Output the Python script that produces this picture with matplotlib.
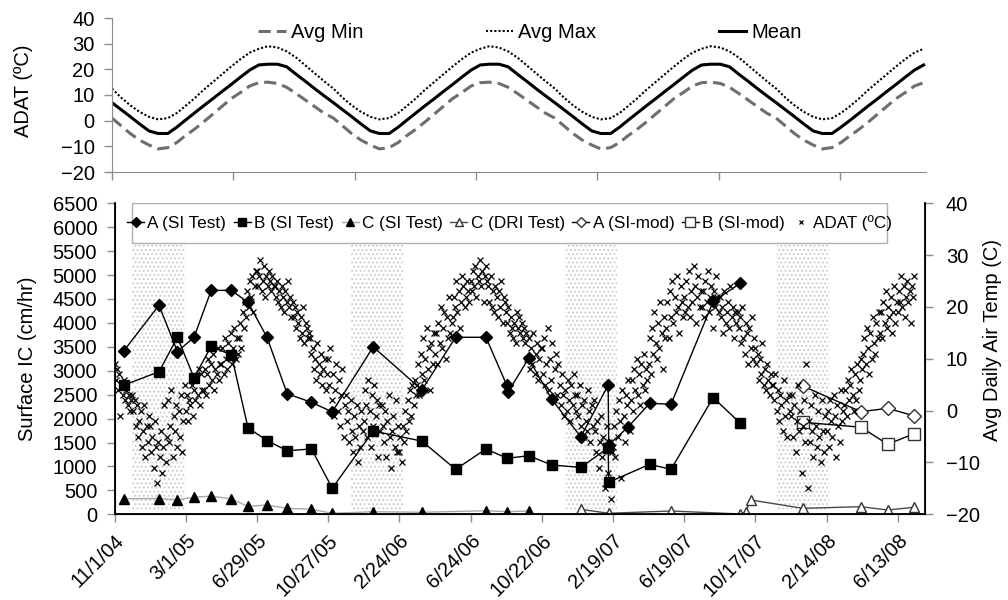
import matplotlib
matplotlib.use('Agg')
import matplotlib.pyplot as plt
import matplotlib.transforms as mtrans
from matplotlib.patches import Rectangle
import pandas as pd

plt.rcParams['font.family'] = ['Liberation Sans', 'DejaVu Sans']
plt.rcParams['hatch.color'] = '#c8c8c8'
plt.rcParams['hatch.linewidth'] = 0.8

start = pd.Timestamp('2004-11-01')

# ---- top panel: seasonal cycle of average daily air temperature (repeats every year)
clim_md = ['01-01', '01-16', '02-01', '02-16', '03-01', '03-16', '04-01', '04-16',
           '05-01', '05-16', '06-01', '06-16', '07-01', '07-16', '08-01', '08-16',
           '09-01', '09-16', '10-01', '10-16', '11-01', '11-16', '12-01', '12-16']
clim_mean = [-4, -5, -5, -2.5, 0, 2.8, 5.8, 8.5, 11.3, 14, 17, 19.7,
             21.7, 22, 22, 21, 18, 15.3, 12.5, 9.8, 7, 4.3, 1.6, -1.2]
clim_max = [1.5, 0.5, 1, 3, 5.5, 8.5, 12, 15, 18, 21, 24, 26.5,
            28, 29, 28.5, 27, 24.5, 21.5, 18.5, 15.5, 12.5, 9, 6, 3.5]
clim_min = [-9.5, -11, -10.5, -8.5, -6, -3.5, -0.5, 2.5, 5.5, 8.5, 11, 13.5,
            14.8, 15, 14.5, 13, 10.5, 8, 5.5, 3, 1, -2, -5, -7.5]
top_end = pd.Timestamp('2008-07-01')

# ---- bottom panel: infiltration tests (cm/hr)
a_si_dates = ['2004-11-17', '2005-01-15', '2005-02-15', '2005-03-15', '2005-04-13', '2005-05-17',
              '2005-06-14', '2005-07-16', '2005-08-19', '2005-09-29', '2005-11-03', '2006-01-11',
              '2006-04-03', '2006-05-30', '2006-07-20', '2006-08-24', '2006-08-26', '2006-09-30',
              '2006-11-08', '2006-12-27', '2007-02-11', '2007-02-12', '2007-03-17', '2007-04-22',
              '2007-05-28', '2007-08-07', '2007-09-22']
a_si = [3420, 4370, 3400, 3700, 4680, 4680, 4430, 3700, 2520, 2340, 2140, 3500,
        2600, 3700, 3700, 2700, 2550, 3260, 2400, 1620, 2700, 1450, 1830, 2320,
        2300, 4450, 4830]

b_si_dates = ['2004-11-17', '2005-01-15', '2005-02-15', '2005-03-15', '2005-04-13', '2005-05-17',
              '2005-06-14', '2005-07-16', '2005-08-19', '2005-09-29', '2005-11-03', '2006-01-11',
              '2006-04-03', '2006-05-30', '2006-07-20', '2006-08-25', '2006-09-30', '2006-11-08',
              '2006-12-27', '2007-02-11', '2007-02-12', '2007-04-22', '2007-05-28', '2007-08-07',
              '2007-09-22']
b_si = [2700, 2980, 3700, 2855, 3510, 3330, 1810, 1540, 1330, 1365, 545, 1740,
        1530, 940, 1365, 1170, 1225, 1030, 980, 1390, 670, 1045, 940, 2440, 1900]

c_si_dates = ['2004-11-17', '2005-01-15', '2005-02-15', '2005-03-15', '2005-04-13', '2005-05-17',
              '2005-06-14', '2005-07-16', '2005-08-19', '2005-09-29', '2005-11-03', '2006-01-11',
              '2006-04-03', '2006-07-20', '2006-08-25', '2006-09-30']
c_si = [326, 330, 305, 355, 382, 320, 165, 194, 125, 105, 21, 54, 42, 75, 54, 69]

c_dri_dates = ['2006-12-27', '2007-02-12', '2007-05-28', '2007-09-22', '2007-10-01', '2007-10-09',
               '2008-01-05', '2008-04-12', '2008-05-27', '2008-07-10']
c_dri = [104, 21, 69, 6, 54, 300, 125, 159, 90, 146]

mod_dates = ['2008-01-05', '2008-04-12', '2008-05-27', '2008-07-10']
a_mod = [2680, 2145, 2215, 2060]
b_mod = [1925, 1820, 1465, 1680]

# winter periods (shaded)
winter_start = ['2004-12-01', '2005-12-04', '2006-11-30', '2007-11-22']
winter_end = ['2005-02-28', '2006-03-03', '2007-02-26', '2008-02-18']

# daily air temperature readings, one every 2 days from 11/1/04 (one row per ~month)
adat_temp = [
    9, 6, 8, 4, 7, -1, 5, 3, 6, 2, 4, 1, 3, 0, 2,
    3, 0, 2, -3, 1, -5, -2, 0, -7, -4, 1, -9, -3, -6, -1,
    -3, -8, -5, -11, -2, -7, -14, -6, -9, -4, -12, -7, 1, -10, -5,
    2, -6, -3, 4, -9, -1, -4, 1, -7, 0, -5, 3, -8, -2, 5,
    0, 3, -2, 2, 1, 5, -1, 4, 2, 6, 3, 8, 1, 7, 4,
    4, 8, 3, 7, 10, 5, 9, 6, 11, 4, 8, 7, 12, 6, 9,
    9, 12, 7, 14, 10, 8, 13, 11, 15, 9, 12, 16, 10, 14, 11,
    14, 17, 12, 19, 16, 21, 18, 23, 20, 25, 22, 26, 19, 24, 27,
    27, 24, 26, 29, 23, 25, 28, 22, 26, 24, 27, 25, 23, 26, 24,
    24, 22, 25, 21, 23, 20, 24, 22, 19, 23, 21, 25, 20, 22, 18,
    21, 18, 20, 16, 19, 17, 14, 18, 15, 20, 13, 17, 16, 14, 15,
    14, 11, 12, 8, 10, 6, 13, 9, 7, 11, 5, 8, 10, 4, 7,
    10, 5, 12, 2, 7, -1, 4, 9, 0, 6, -3, 3, 8, -5, 1,
    3, -2, 0, -6, 2, -4, -8, -1, -5, 1, -10, -3, -7, 0, -4,
    -2, 4, 1, -5, 6, 0, -7, 3, -3, 5, -1, 2, -9, 1, -4,
    1, -3, -6, 0, -9, -2, 3, -5, -11, -4, -1, -7, 2, -8, -3,
    -8, -5, -10, -3, -6, 0, -4, 2, -2, 4, -1, 5, 1, 6, 3,
    5, 9, 3, 11, 7, 14, 6, 10, 16, 8, 12, 4, 13, 9, 15,
    11, 15, 9, 17, 13, 20, 12, 16, 19, 10, 18, 14, 22, 15, 17,
    18, 22, 20, 25, 19, 23, 16, 21, 26, 24, 20, 22, 25, 23, 21,
    25, 23, 27, 24, 28, 22, 26, 25, 29, 24, 27, 21, 26, 28, 25,
    24, 21, 26, 20, 23, 19, 24, 22, 18, 23, 20, 25, 17, 22, 21,
    19, 17, 20, 15, 18, 16, 14, 17, 13, 19, 16, 18, 15, 17, 14,
    16, 13, 15, 10, 14, 8, 12, 9, 15, 7, 11, 13, 6, 10, 12,
    12, 7, 14, 5, 9, 16, 4, 10, 6, 13, 2, 8, 11, 3, 9,
    5, 1, 7, 3, -1, 4, 0, 6, 2, -2, 5, 1, 7, 3, 0,
    3, -1, 5, -3, 1, -5, 2, -2, -4, 4, 0, -6, 1, -3, 2,
    -4, -8, -2, -11, -6, -1, -9, -5, -15, -7, -3, -12, -6, -17, -8,
    -7, -3, -9, 0, -5, 2, -2, -13, 4, -1, -6, 3, 1, 6, -4,
    2, 6, 0, 8, 4, 10, 3, 7, 1, 9, 5, 11, 4, 8, 6,
    9, 14, 7, 16, 11, 19, 13, 10, 17, 12, 21, 15, 8, 18, 14,
    16, 21, 14, 23, 18, 25, 17, 22, 19, 26, 20, 15, 24, 21, 18,
    22, 19, 25, 20, 27, 18, 23, 21, 28, 24, 17, 22, 26, 20, 23,
    20, 23, 18, 25, 21, 27, 19, 22, 24, 16, 23, 20, 26, 22, 19,
    22, 18, 20, 15, 23, 17, 19, 21, 16, 24, 18, 20, 14, 19, 17,
    19, 16, 18, 13, 20, 14, 11, 17, 15, 9, 16, 12, 18, 10, 14,
    12, 9, 11, 6, 10, 7, 13, 5, 8, 4, 9, 6, 3, 7, 5,
    5, 2, 7, 0, 4, -2, 3, 1, -4, 6, -1, 2, -5, 3, 0,
    -1, 3, -5, 1, -8, -2, 5, -4, 0, -12, -3, 2, -6, 9, -15,
    -2, -6, 1, -4, -9, 3, -3, -7, 0, -5, -10, 2, -4, -8, -1,
    -4, 0, -7, 2, -2, -5, 3, -1, -9, 1, -3, -6, 4, -2, 0,
    1, 4, -1, 6, 2, 5, 8, 3, 0, 7, 2, 9, 4, 6, 10,
    8, 11, 14, 9, 16, 12, 7, 15, 10, 18, 13, 11, 17, 14, 19,
    15, 19, 14, 21, 17, 23, 16, 20, 18, 22, 15, 19, 24, 17, 21,
    19, 23, 21, 26, 20, 24, 18, 22, 25, 21, 23, 17, 24, 22, 26,
]

tick_labels = ['11/1/04', '3/1/05', '6/29/05', '10/27/05', '2/24/06', '6/24/06',
               '10/22/06', '2/19/07', '6/19/07', '10/17/07', '2/14/08', '6/13/08']

FS = 14.5
GRAY_TICK = '#8c8c8c'

# ---------------- figure
fig = plt.figure(figsize=(10.08, 6.0), dpi=100)

# top panel
ax_t = fig.add_axes([112 / 1008, 1 - 172 / 600, 814 / 1008, 154 / 600])
top_dates, top_mean, top_max, top_min = [], [], [], []
for yr in range(2004, 2009):
    for md, m, hi, lo in zip(clim_md, clim_mean, clim_max, clim_min):
        d = pd.Timestamp(f'{yr}-{md}')
        if start <= d <= top_end:
            top_dates.append(d)
            top_mean.append(m)
            top_max.append(hi)
            top_min.append(lo)

ax_t.plot(top_dates, top_min, color='#6e6e6e', lw=2.2, ls=(0, (4, 2)), label='Avg Min')
ax_t.plot(top_dates, top_max, color='black', lw=1.5, ls=(0, (1, 1)), label='Avg Max')
ax_t.plot(top_dates, top_mean, color='black', lw=2.2, label='Mean')
ax_t.set_xlim(start, start + pd.Timedelta(days=1342))
ax_t.set_ylim(-20, 40)
ax_t.set_yticks(range(-20, 41, 10))
ax_t.set_xticks(pd.date_range(start, periods=7, freq='200D'))
ax_t.set_xticklabels([])
for s in ['top', 'right']:
    ax_t.spines[s].set_visible(False)
for s in ['left', 'bottom']:
    ax_t.spines[s].set_color('#8c8c8c')
ax_t.tick_params(axis='both', direction='out', color=GRAY_TICK, length=6, width=1)
ax_t.tick_params(axis='y', labelsize=FS, pad=6.5)
ax_t.set_ylabel('ADAT (ºC)', fontsize=FS)
ax_t.yaxis.set_label_coords(-0.097, 0.53)
ax_t.legend(loc='center', bbox_to_anchor=(0.5135, 0.903), ncol=3, frameon=False,
            fontsize=FS, handlelength=1.35, handletextpad=0.25, columnspacing=6.1)

# bottom panel
ax = fig.add_axes([114.5 / 1008, 1 - 514.3 / 600, 810.5 / 1008, 311 / 600])
for ws, we in zip(winter_start, winter_end):
    ax.fill_between([pd.Timestamp(ws), pd.Timestamp(we)], 90, 5670,
                    facecolor='white', edgecolor='#c8c8c8', hatch='....', linewidth=0, zorder=0)

h1, = ax.plot(pd.to_datetime(a_si_dates), a_si, color='black', lw=1, marker='D', ms=6,
              label='A (SI Test)')
h2, = ax.plot(pd.to_datetime(b_si_dates), b_si, color='black', lw=1, marker='s', ms=7.5,
              label='B (SI Test)')
h3, = ax.plot(pd.to_datetime(c_si_dates), c_si, color='#a8a8a8', lw=1, marker='^', ms=7,
              mfc='black', mec='black', label='C (SI Test)')
h4, = ax.plot(pd.to_datetime(c_dri_dates), c_dri, color='#4a4a4a', lw=1, marker='^', ms=7,
              mfc='white', mec='#333333', label='C (DRI Test)')
h5, = ax.plot(pd.to_datetime(mod_dates), a_mod, color='black', lw=1, marker='D', ms=7,
              mfc='white', mec='#333333', label='A (SI-mod)')
h6, = ax.plot(pd.to_datetime(mod_dates), b_mod, color='black', lw=1, marker='s', ms=8.5,
              mfc='white', mec='#333333', label='B (SI-mod)')

ax.set_xlim(start, start + pd.Timedelta(days=1366))
ax.set_ylim(0, 6500)
ax.set_yticks(range(0, 6501, 500))
ax.set_xticks(pd.date_range(start, periods=len(tick_labels), freq='120D'))
ax.set_xticklabels(tick_labels, rotation=45, ha='right', rotation_mode='anchor', fontsize=FS)
shift = mtrans.ScaledTranslation(3 / 100, 0, fig.dpi_scale_trans)
for lab in ax.get_xticklabels():
    lab.set_transform(lab.get_transform() + shift)
ax.tick_params(axis='both', direction='out', color=GRAY_TICK, length=6, width=1)
ax.tick_params(axis='y', labelsize=FS, pad=6.5)
ax.tick_params(axis='x', pad=6)
ax.spines['top'].set_visible(False)
for s in ['left', 'bottom']:
    ax.spines[s].set_linewidth(1.3)
ax.set_ylabel('Surface IC (cm/hr)', fontsize=FS)
ax.yaxis.set_label_coords(-0.0956, 0.5)

ax2 = ax.twinx()
adat_dates = [start + pd.Timedelta(days=2 * i) for i in range(len(adat_temp))]
h7, = ax2.plot(adat_dates, adat_temp, ls='none', marker='x', ms=4, mew=0.9, color='black',
               label='ADAT (ºC)')
ax2.set_ylim(-20, 40)
ax2.set_yticks(range(-20, 41, 10))
ax2.spines['top'].set_visible(False)
ax2.spines['right'].set_linewidth(1.3)
ax2.tick_params(axis='y', direction='out', color=GRAY_TICK, length=6, width=1,
                labelsize=FS, pad=9)
ax2.set_ylabel('Avg Daily Air Temp (C)', fontsize=FS, rotation=90)
ax2.yaxis.set_label_coords(1.072, 0.56)

# legend box of the lower panel
ax2.add_patch(Rectangle((0.0216, 0.8723), 0.9314, 0.1277, transform=ax2.transAxes,
                        facecolor='white', edgecolor='#b0b0b0', lw=1, zorder=4))
leg = ax2.legend(handles=[h1, h2, h3, h4, h5, h6, h7], loc='center',
                 bbox_to_anchor=(0.4873, 0.9367), borderaxespad=0, borderpad=0, ncol=7,
                 fontsize=12.3, handlelength=1.0, handletextpad=0.18, columnspacing=0.45,
                 markerscale=0.8, frameon=False)
leg.set_zorder(5)

fig.savefig('out.png', dpi=100, facecolor='white')
